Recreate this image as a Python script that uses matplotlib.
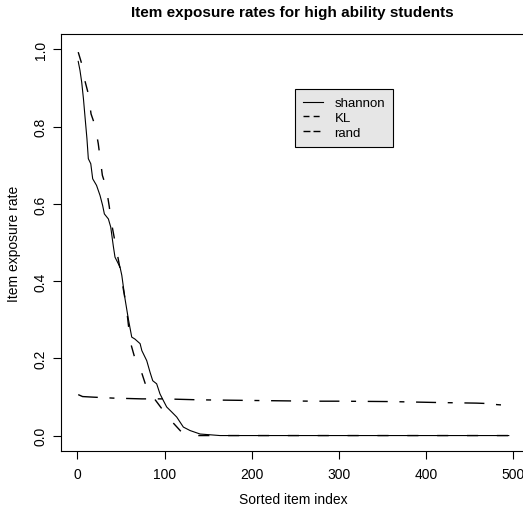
import matplotlib
matplotlib.use("Agg")
from matplotlib import pyplot as plt
from matplotlib.lines import Line2D

plt.rcParams["font.family"] = ["Liberation Sans", "DejaVu Sans"]
plt.rcParams["lines.scale_dashes"] = False

# points (sorted item index, exposure rate)
shannon_x = [1, 3, 5, 7, 9, 11, 12.6, 15.4, 17.6, 22, 26, 29, 31, 35.6, 38.3,
             41.3, 43.2, 49, 51, 54.7, 58.5, 62.4, 66, 72, 74, 79.6, 83.4,
             86.5, 91, 94.8, 98.6, 102.5, 108.3, 114, 121.6, 129.3, 140.8,
             163.7, 495]
shannon_y = [0.969, 0.946, 0.915, 0.872, 0.82, 0.769, 0.717, 0.704, 0.665,
             0.648, 0.622, 0.596, 0.574, 0.561, 0.54, 0.49, 0.462, 0.436,
             0.415, 0.354, 0.302, 0.255, 0.25, 0.238, 0.22, 0.194, 0.164,
             0.142, 0.134, 0.108, 0.091, 0.074, 0.061, 0.048, 0.022, 0.013,
             0.004, 0.0, 0.0]

kl_x = [1, 5, 9, 12.6, 15.7, 20.3, 24, 26, 28.7, 33, 36.7, 38.3, 49, 51,
        54.7, 56.7, 59.3, 61.3, 67.3, 73.9, 80.3, 87.2, 101.4, 109, 121.6,
        138.8, 495]
kl_y = [0.993, 0.963, 0.916, 0.885, 0.833, 0.803, 0.756, 0.721, 0.674,
        0.644, 0.592, 0.561, 0.432, 0.402, 0.354, 0.324, 0.272, 0.238, 0.19,
        0.162, 0.118, 0.099, 0.056, 0.035, 0.004, 0.0, 0.0]

rand_x = [1, 6, 18, 41, 74, 99, 140, 270, 300, 360, 415, 458, 470, 482, 495]
rand_y = [0.106, 0.101, 0.0995, 0.097, 0.095, 0.095, 0.0925, 0.089, 0.089,
          0.088, 0.0855, 0.084, 0.083, 0.08, 0.078]

xticks = [0, 100, 200, 300, 400, 500]
yticks = [0.0, 0.2, 0.4, 0.6, 0.8, 1.0]

W, H = 523, 510
fig = plt.figure(figsize=(W / 100, H / 100), dpi=100)
ax = fig.add_axes([61 / W, 58 / H, (526 - 61) / W, (452 - 35) / H])

ax.plot(shannon_x, shannon_y, color="black", lw=0.8, label="shannon")
ax.plot(kl_x, kl_y, color="black", lw=1.0, dashes=(8, 13.5), label="KL")
ax.plot(rand_x, rand_y, color="black", lw=1.0,
        dashes=(14.4, 8.4, 3.6, 8.4), label="rand")

ax.set_xlim(1 - 0.04 * 494, 495 + 0.04 * 494)
ax.set_ylim(-0.04, 1.04)
ax.set_xticks(xticks)
ax.set_yticks(yticks)
ax.set_xticklabels([str(t) for t in xticks])
ax.set_yticklabels([f"{t:.1f}" for t in yticks], rotation=90, va="center")
ax.tick_params(direction="out", length=5.5, width=0.8, labelsize=10)
ax.tick_params(axis="x", pad=6)
ax.tick_params(axis="y", pad=4)
for s in ax.spines.values():
    s.set_linewidth(0.8)

ax.set_xlabel("Sorted item index", fontsize=10, labelpad=8)
ax.set_ylabel("Item exposure rate", fontsize=10, labelpad=9)

fig.text(292.5 / W, 1 - 13 / H, "Item exposure rates for high ability students",
         ha="center", va="center", fontsize=11, fontweight="bold")

handles = [
    Line2D([], [], color="black", lw=0.8),
    Line2D([], [], color="black", lw=1.0, dashes=(4.3, 3.0)),
    Line2D([], [], color="black", lw=1.0, dashes=(5.0, 2.2)),
]
leg = fig.legend(handles, ["shannon", "KL", "rand"], loc="upper left",
                 bbox_to_anchor=(295 / W, 1 - 90 / H),
                 bbox_transform=fig.transFigure, fontsize=9.5,
                 fancybox=False, framealpha=1, facecolor="#e6e6e6",
                 edgecolor="black", borderaxespad=0, handlelength=1.5,
                 handletextpad=0.9, borderpad=0.6, labelspacing=0.2)
leg.get_frame().set_linewidth(0.8)

fig.savefig("out.png", dpi=100)
plt.close(fig)
